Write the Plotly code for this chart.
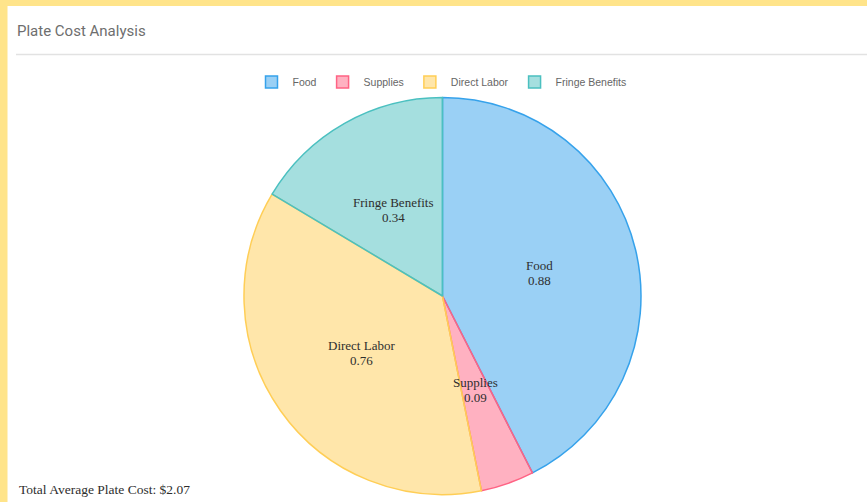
import math
import plotly.graph_objects as go

# ---- data ----
categories = ["Food", "Supplies", "Direct Labor", "Fringe Benefits"]
values = [0.88, 0.09, 0.76, 0.34]
fill_colors = ["rgba(54,162,235,0.5)", "rgba(255,99,132,0.5)",
               "rgba(255,206,86,0.5)", "rgba(75,192,192,0.5)"]
line_colors = ["rgb(54,162,235)", "rgb(255,99,132)",
               "rgb(255,206,86)", "rgb(75,192,192)"]
title_text = "Plate Cost Analysis"
total_text = "Total Average Plate Cost: $%.2f" % sum(values)

# ---- layout geometry ----
W, H = 867, 502
dom_x = [244 / W, 641 / W]
dom_y = [(H - 494.5) / H, (H - 97.5) / H]
SERIF = "Liberation Serif, Times New Roman, serif"

fig = go.Figure()
fig.add_trace(go.Pie(
    labels=categories,
    values=values,
    sort=False,
    direction="clockwise",
    rotation=0,
    textinfo="none",
    marker=dict(colors=fill_colors, line=dict(color=line_colors, width=1.5)),
    domain=dict(x=dom_x, y=dom_y),
    hoverinfo="label+value",
))

# slice labels at half radius along each slice's mid-angle (computed from data)
cx = (dom_x[0] + dom_x[1]) / 2 * W
cy = H - (dom_y[0] + dom_y[1]) / 2 * H
r = min((dom_x[1] - dom_x[0]) * W, (dom_y[1] - dom_y[0]) * H) / 2
total = sum(values)
cum = 0.0
annotations = []
line_gap = 15
for cat, v in zip(categories, values):
    mid = (cum + v / 2) / total * 2 * math.pi
    cum += v
    px = cx + 0.5 * r * math.sin(mid)
    py = cy - 0.5 * r * math.cos(mid)
    for txt, off in ((cat, -line_gap / 2), (f"{v:.2f}", line_gap / 2)):
        annotations.append(dict(
            x=px / W, y=1 - (py + off) / H, xref="paper", yref="paper",
            text=txt, showarrow=False, borderpad=0,
            font=dict(family=SERIF, size=13, color="#2e2e2e"),
            xanchor="center", yanchor="middle",
        ))

annotations.append(dict(
    x=15 / W, y=1 - 31 / H, xref="paper", yref="paper", text=title_text,
    showarrow=False, xanchor="left", yanchor="middle",
    font=dict(family="Roboto, Arial, sans-serif", size=15, color="#6e6e6e"),
))
annotations.append(dict(
    x=17 / W, y=1 - 489 / H, xref="paper", yref="paper", text=total_text,
    showarrow=False, xanchor="left", yanchor="middle",
    font=dict(family=SERIF, size=13.5, color="#2e2e2e"),
))

shapes = [
    # yellow frame
    dict(type="rect", xref="paper", yref="paper", x0=0, x1=1, y0=1 - 6 / H, y1=1,
         fillcolor="#FFE48A", line=dict(width=0), layer="below"),
    dict(type="rect", xref="paper", yref="paper", x0=0, x1=7.5 / W, y0=0, y1=1,
         fillcolor="#FFE48A", line=dict(width=0), layer="below"),
    # header separator
    dict(type="line", xref="paper", yref="paper", x0=16 / W, x1=1, y0=1 - 54.5 / H, y1=1 - 54.5 / H,
         line=dict(color="#e2e2e2", width=1.5)),
]

fig.update_layout(
    width=W, height=H,
    margin=dict(l=0, r=0, t=0, b=0),
    paper_bgcolor="white",
    plot_bgcolor="white",
    showlegend=True,
    legend=dict(orientation="h", x=441 / W, xanchor="center", y=1 - 82 / H, yanchor="middle",
                font=dict(family="Arial, Liberation Sans, sans-serif", size=10.5, color="#666666"),
                itemwidth=32, bgcolor="rgba(0,0,0,0)"),
    annotations=annotations,
    shapes=shapes,
)

fig.write_html("out.html", config={"displayModeBar": False},
               post_script="document.body.style.margin='0';document.body.style.padding='0';")
